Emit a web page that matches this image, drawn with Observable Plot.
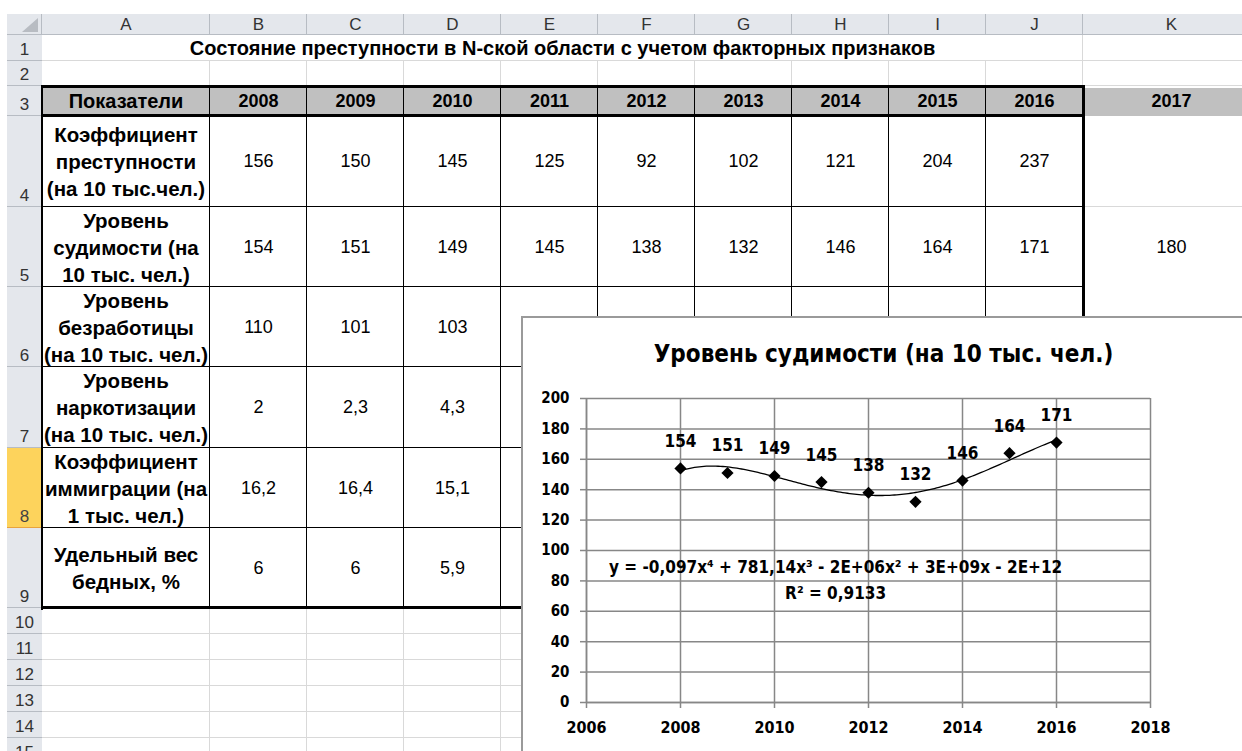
<!DOCTYPE html>
<html><head><meta charset="utf-8">
<script src="https://cdn.jsdelivr.net/npm/d3@7"></script>
<script src="https://cdn.jsdelivr.net/npm/@observablehq/plot@0.6"></script>
<style>
html,body{margin:0;padding:0;background:#fff;}
body{width:1242px;height:751px;overflow:hidden;position:relative;font-family:"Liberation Sans",Arial,sans-serif;}
.a{position:absolute;box-sizing:border-box;}
.cell{display:flex;align-items:center;justify-content:center;text-align:center;white-space:pre-line;color:#000;}
.hdr{background:#e4e7ec;color:#333;font-size:17px;display:flex;align-items:center;justify-content:center;}
.rowhdr{background:#e4e7ec;color:#333;font-size:17px;display:flex;align-items:flex-end;justify-content:center;padding-bottom:1px;}
#chart{position:absolute;left:521px;top:316px;width:730px;height:450px;background:#fff;border-left:2px solid #9a9a9a;border-top:2px solid #9a9a9a;box-sizing:border-box;z-index:10;}
#ctitle{position:absolute;left:0;width:721px;top:22px;text-align:center;font-family:"Liberation Sans Narrow","DejaVu Sans Condensed",sans-serif;font-weight:bold;font-size:24px;color:#000;}
#plot{position:absolute;left:0;top:58px;}
</style></head><body>
<div id="sheet"></div>
<div id="chart"><div id="ctitle"></div><div id="plot"></div></div>
<script>
// ---------- data ----------
const columnLetters = ["A","B","C","D","E","F","G","H","I","J","K"];
const rowNumbers = [1,2,3,4,5,6,7,8,9,10,11,12,13,14,15];
const sheetTitle = "Состояние преступности в N-ской области с учетом факторных признаков";
const headerLabel = "Показатели";
const yearHeaders = ["2008","2009","2010","2011","2012","2013","2014","2015","2016","2017"];
const indicatorLabels = [
  "Коэффициент\nпреступности\n(на 10 тыс.чел.)",
  "Уровень\nсудимости (на\n10 тыс. чел.)",
  "Уровень\nбезработицы\n(на 10 тыс. чел.)",
  "Уровень\nнаркотизации\n(на 10 тыс. чел.)",
  "Коэффициент\nиммиграции (на\n1 тыс. чел.)",
  "Удельный вес\nбедных, %"
];
const crimeRate = ["156","150","145","125","92","102","121","204","237"];
const convictionText = ["154","151","149","145","138","132","146","164","171","180"];
const unemployment = ["110","101","103"];
const drugUse = ["2","2,3","4,3"];
const immigration = ["16,2","16,4","15,1"];
const poorShare = ["6","6","5,9"];

const years = [2008,2009,2010,2011,2012,2013,2014,2015,2016];
const convictionLevel = [154,151,149,145,138,132,146,164,171];
const chartTitle = "Уровень судимости (на 10 тыс. чел.)";
const trendEquation = "y = -0,097x⁴ + 781,14x³ - 2E+06x² + 3E+09x - 2E+12";
const trendR2 = "R² = 0,9133";
const xTicks = [2006,2008,2010,2012,2014,2016,2018];
const yTicks = [0,20,40,60,80,100,120,140,160,180,200];

// ---------- sheet layout ----------
const colX = [42,210,307,404,501,598,695,792,889,986,1083,1260];
const rowY = [35,61,86,116,207,287,367,448,528,608,634,660,686,712,738,764];
const sheet = document.getElementById("sheet");
function box(x,y,w,h,css,text,cls){
  const d=document.createElement("div");
  d.className="a "+(cls||"");
  Object.assign(d.style,{left:x+"px",top:y+"px",width:w+"px",height:h+"px"},css||{});
  if(text!=null) d.textContent=text;
  sheet.appendChild(d); return d;
}
// light grid
for(let r=0;r<rowNumbers.length;r++){
  box(42,rowY[r+1]-1,1260-42,1,{background:"#d9d9d9"});
}
for(let c=1;c<colX.length-1;c++){
  box(colX[c]-1,61,1,764-61,{background:"#d9d9d9"});
}
box(1083-1,35,1,26,{background:"#d9d9d9"});
// column header
box(7,14,1260,21,{background:"#e4e7ec"});
box(7,14,35,21,{background:"#e4e7ec"});
box(22,18,16,14,{background:"#b8bcc2",clipPath:"polygon(100% 0,100% 100%,0 100%)"});
columnLetters.forEach((L,i)=>{
  box(colX[i],14,colX[i+1]-colX[i],21,{},L,"hdr");
  box(colX[i+1]-1,14,1,21,{background:"#b7bcc3"});
});
box(7,34,1260,1,{background:"#b7bcc3"});
box(41,14,1,751,{background:"#b7bcc3"});
// row headers
rowNumbers.forEach((n,i)=>{
  const sel = n===8;
  box(7,rowY[i],35,rowY[i+1]-rowY[i],sel?{background:"#fdd35c",color:"#444"}:{},String(n),"rowhdr");
  box(7,rowY[i+1]-1,35,1,{background:sel?"#e8a33d":"#b7bcc3"});
});
box(41,448,2,80,{background:"#f0a030"});
// title row
box(42,35,1083-42,26,{fontWeight:"bold",fontSize:"20px"},sheetTitle,"cell");
// header row 3
box(42,86,1083-42,30,{background:"#c0c0c0"});
box(1083,88,1260-1083,28,{background:"#c0c0c0"});
box(42,86,colX[1]-42,30,{fontWeight:"bold",fontSize:"20px"},headerLabel,"cell");
yearHeaders.forEach((t,i)=>box(colX[i+1],86,colX[i+2]-colX[i+1],30,{fontWeight:"bold",fontSize:"18px"},t,"cell"));
// body cells
const bodyRows=[crimeRate,convictionText,unemployment,drugUse,immigration,poorShare];
indicatorLabels.forEach((lab,r)=>{
  const y=rowY[r+3], h=rowY[r+4]-rowY[r+3];
  box(42,y,colX[1]-42,h,{fontWeight:"bold",fontSize:"20.5px",lineHeight:"27px",background:"#fff"},lab,"cell");
  bodyRows[r].forEach((v,c)=>box(colX[c+1],y,colX[c+2]-colX[c+1],h,{fontSize:"18px",background:"#fff"},v,"cell"));
});
// table borders
for(let c=1;c<10;c++) box(colX[c]-1,86,1,608-86,{background:"#000"});
for(let r=4;r<9;r++) box(42,rowY[r]-1,1083-42,1,{background:"#000"});
box(41,85,1083-41+2,3,{background:"#000"});
box(41,114,1083-41+2,3,{background:"#000"});
box(41,606,1083-41+2,3,{background:"#000"});
box(41,85,2,608-85+2,{background:"#000"});
box(1082,85,3,608-85+2,{background:"#000"});

// ---------- chart ----------
document.getElementById("ctitle").textContent = chartTitle;
const data = years.map((year,i)=>({year, value: convictionLevel[i]}));
function polyfit(xs, ys, deg){
  const n=deg+1, A=Array.from({length:n},()=>new Array(n+1).fill(0));
  for(let i=0;i<n;i++){
    for(let j=0;j<n;j++) A[i][j]=d3.sum(xs,x=>Math.pow(x,i+j));
    A[i][n]=d3.sum(xs,(x,k)=>ys[k]*Math.pow(x,i));
  }
  for(let i=0;i<n;i++){
    let p=i; for(let k=i+1;k<n;k++) if(Math.abs(A[k][i])>Math.abs(A[p][i])) p=k;
    [A[i],A[p]]=[A[p],A[i]];
    for(let k=i+1;k<n;k++){const f=A[k][i]/A[i][i]; for(let j=i;j<=n;j++) A[k][j]-=f*A[i][j];}
  }
  const c=new Array(n).fill(0);
  for(let i=n-1;i>=0;i--){let s=A[i][n]; for(let j=i+1;j<n;j++) s-=A[i][j]*c[j]; c[i]=s/A[i][i];}
  return c;
}
const x0 = d3.mean(years);
const coef = polyfit(years.map(x=>x-x0), convictionLevel, 4);
const trend = d3.range(years[0], years[years.length-1]+0.001, 0.05)
  .map(x=>({year:x, value: coef.reduce((s,c,k)=>s+c*Math.pow(x-x0,k),0)}));

const chartFont = '"Liberation Sans Narrow","DejaVu Sans Condensed",sans-serif';
const gridStyle = {stroke:"#878787", strokeOpacity:1, strokeWidth:1.5};
const plot = Plot.plot({
  width: 719, height: 377,
  marginTop: 22, marginBottom: 51, marginLeft: 63, marginRight: 92,
  style: {fontFamily: chartFont, fontWeight:"bold", fontSize:"15px", color:"#000", background:"transparent", overflow:"visible"},
  x: {domain:[2006,2018]},
  y: {domain:[0,200]},
  marks: [
    Plot.gridX({ticks:xTicks, ...gridStyle}),
    Plot.gridY({ticks:yTicks, ...gridStyle}),
    Plot.axisX({ticks:xTicks, tickSize:6, tickPadding:13, tickFormat:d=>String(d), stroke:"#878787", strokeWidth:1.5, label:null, fontSize:16, fontWeight:"bold", fill:"#000"}),
    Plot.axisY({ticks:yTicks, tickSize:6, tickPadding:11, stroke:"#878787", strokeWidth:1.5, label:null, fontSize:15, fontWeight:"bold", fill:"#000"}),
    Plot.ruleY([0], gridStyle),
    Plot.ruleX([2006], gridStyle),
    Plot.line(trend, {x:"year", y:"value", stroke:"#000", strokeWidth:1.3}),
    Plot.dot(data, {x:"year", y:"value", symbol:"diamond2", fill:"#000", stroke:null, r:5.5}),
    Plot.text(data, {x:"year", y:"value", text:d=>String(d.value), dy:-27, fontSize:17, fontWeight:"bold", fill:"#000"}),
    Plot.text([trendEquation], {x:()=>2011.3, y:()=>89, text:d=>d, fontSize:17, fontWeight:"bold", fill:"#000"}),
    Plot.text([trendR2], {x:()=>2011.3, y:()=>72, text:d=>d, fontSize:17, fontWeight:"bold", fill:"#000"})
  ]
});
document.getElementById("plot").appendChild(plot);
</script>
</body></html>
